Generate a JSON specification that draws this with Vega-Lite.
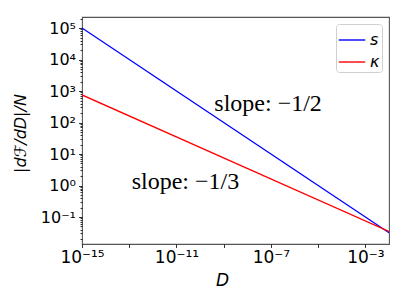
{
  "$schema": "https://vega.github.io/schema/vega-lite/v6.json",
  "autosize": {"type": "none"},
  "width": 307,
  "height": 227,
  "padding": {"left": 82, "top": 17, "right": 10, "bottom": 55},
  "background": "white",
  "config": {
    "view": {"stroke": "#555", "strokeWidth": 1.1},
    "font": "DejaVu Sans"
  },
  "datasets": {
    "lines": [
      {"D": 1e-15, "value": 100000, "series": "s"},
      {"D": 0.01, "value": 0.0316, "series": "s"},
      {"D": 1e-15, "value": 750, "series": "κ"},
      {"D": 0.01, "value": 0.0348, "series": "κ"}
    ],
    "notes": [
      {"D": 7.6e-8, "value": 240, "label": "slope: −1/2"},
      {"D": 2.4e-11, "value": 0.8, "label": "slope: −1/3"}
    ]
  },
  "layer": [
    {
      "data": {"name": "lines"},
      "mark": {"type": "line", "strokeWidth": 1.4, "clip": true},
      "encoding": {
        "x": {
          "field": "D",
          "type": "quantitative",
          "scale": {"type": "log", "domain": [1e-15, 0.01], "nice": false, "zero": false},
          "axis": {
            "title": "D",
            "titleFont": "DejaVu Sans",
            "titleFontStyle": "italic",
            "titleFontWeight": "normal",
            "titleFontSize": 17,
            "titleX": 140,
            "titleY": 36,
            "titleBaseline": "middle",
            "titleAlign": "center",
            "values": [1e-15, 1e-13, 1e-11, 1e-9, 1e-7, 1e-5, 1e-3],
            "labelExpr": "round(log(datum.value)/LN10) == -15 ? '10⁻¹⁵' : round(log(datum.value)/LN10) == -11 ? '10⁻¹¹' : round(log(datum.value)/LN10) == -7 ? '10⁻⁷' : round(log(datum.value)/LN10) == -3 ? '10⁻³' : ''",
            "labelFontSize": 17,
            "labelColor": "black",
            "labelFlush": false,
            "labelOverlap": false,
            "labelBound": false,
            "labelPadding": 2,
            "domain": false,
            "grid": false,
            "tickColor": "black",
            "tickSize": 3.5,
            "tickWidth": 0.8
          }
        },
        "y": {
          "field": "value",
          "type": "quantitative",
          "scale": {"type": "log", "domain": [0.0139, 223872], "nice": false, "zero": false},
          "axis": {
            "title": "|dℱ/dD|/N",
            "titleFont": "DejaVu Sans",
            "titleFontStyle": "italic",
            "titleFontWeight": "normal",
            "titleFontSize": 16,
            "titleX": -62,
            "titleY": 116,
            "titleBaseline": "middle",
            "titleAlign": "center",
            "titleAngle": -90,
            "values": [0.02, 0.03, 0.04, 0.05, 0.06, 0.07, 0.08, 0.09, 0.1, 0.2, 0.3, 0.4, 0.5, 0.6, 0.7, 0.8, 0.9, 1, 2, 3, 4, 5, 6, 7, 8, 9, 10, 20, 30, 40, 50, 60, 70, 80, 90, 100, 200, 300, 400, 500, 600, 700, 800, 900, 1000, 2000, 3000, 4000, 5000, 6000, 7000, 8000, 9000, 10000, 20000, 30000, 40000, 50000, 60000, 70000, 80000, 90000, 100000, 200000],
            "labelExpr": "abs(log(datum.value)/LN10 - round(log(datum.value)/LN10)) > 0.001 ? '' : round(log(datum.value)/LN10) == -1 ? '10⁻¹' : round(log(datum.value)/LN10) == 0 ? '10⁰' : round(log(datum.value)/LN10) == 1 ? '10¹' : round(log(datum.value)/LN10) == 2 ? '10²' : round(log(datum.value)/LN10) == 3 ? '10³' : round(log(datum.value)/LN10) == 4 ? '10⁴' : round(log(datum.value)/LN10) == 5 ? '10⁵' : ''",
            "labelFontSize": 16,
            "labelColor": "black",
            "labelFlush": false,
            "labelOverlap": false,
            "labelBound": false,
            "labelPadding": 3,
            "domain": false,
            "grid": false,
            "tickColor": "black",
            "tickWidth": 0.8,
            "tickSize": {"condition": {"test": "abs(log(datum.value)/LN10 - round(log(datum.value)/LN10)) > 0.001", "value": 2}, "value": 3.5}
          }
        },
        "color": {
          "field": "series",
          "type": "nominal",
          "scale": {"domain": ["s", "κ"], "range": ["blue", "red"]},
          "legend": {
            "title": null,
            "orient": "top-right",
            "offset": 7,
            "fillColor": "white",
            "strokeColor": "#d0d0d0",
            "cornerRadius": 3,
            "padding": 2,
            "symbolType": "stroke",
            "symbolSize": 700,
            "symbolStrokeWidth": 1.4,
            "labelFont": "DejaVu Sans",
            "labelFontStyle": "italic",
            "labelFontSize": 16,
            "labelColor": "black",
            "rowPadding": -7
          }
        }
      }
    },
    {
      "data": {"name": "notes"},
      "mark": {"type": "text", "font": "Liberation Serif", "fontSize": 24, "align": "center", "baseline": "alphabetic", "color": "black"},
      "encoding": {
        "x": {"field": "D", "type": "quantitative"},
        "y": {"field": "value", "type": "quantitative"},
        "text": {"field": "label", "type": "nominal"}
      }
    }
  ]
}
